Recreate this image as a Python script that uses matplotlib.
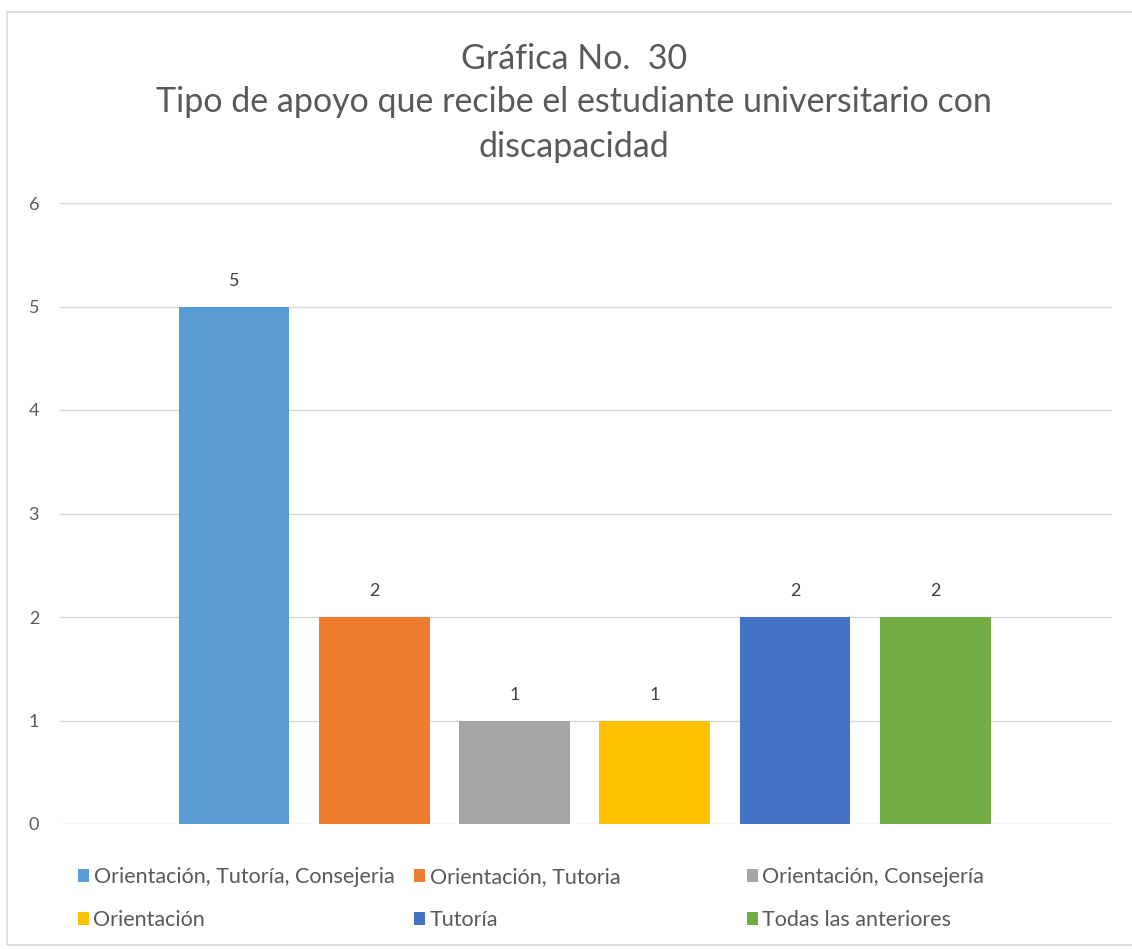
import matplotlib
matplotlib.use("Agg")
import matplotlib.pyplot as plt
from matplotlib.patches import Rectangle

series = ["Orientación, Tutoría, Consejeria", "Orientación, Tutoria",
          "Orientación, Consejería", "Orientación", "Tutoría",
          "Todas las anteriores"]
values = [5, 2, 1, 1, 2, 2]
colors = ["#5B9BD5", "#ED7D31", "#A5A5A5", "#FFC000", "#4472C4", "#70AD47"]
yticks = [0, 1, 2, 3, 4, 5, 6]

plt.rcParams['font.family'] = ['Lato', 'DejaVu Sans']
W, H = 1132, 949
fig = plt.figure(figsize=(W / 100, H / 100), dpi=100)
fig.patches.append(Rectangle((7 / W, 4 / H), 1.2, (H - 16) / H, transform=fig.transFigure,
                             fill=False, edgecolor="#D9D9D9", linewidth=1.2))

ax = fig.add_axes([60 / W, 125 / H, 1052 / W, 621 / H])
handles = []
for i, (s, v, c) in enumerate(zip(series, values, colors)):
    b = ax.bar(i, v, width=0.79, color=c, label=s, zorder=3)
    handles.append(b)
    ax.text(i, v + 0.17, str(v), ha="center", va="bottom", fontsize=13, color="#404040")

ax.set_xlim(-1.24, 6.26)
ax.set_ylim(0, 6)
ax.set_yticks(yticks)
ax.set_yticklabels([str(t) for t in yticks], fontsize=13, color="#595959")
ax.set_xticks([])
ax.grid(axis="y", color="#D9D9D9", linewidth=1, zorder=0)
for sp in ax.spines.values():
    sp.set_visible(False)
ax.tick_params(axis="y", length=0, pad=15)

tkw = dict(ha="center", va="center", fontsize=24.5, color="#595959")
fig.text(574 / W, 1 - 59 / H, "Gráfica No.  30", **tkw)
fig.text(574 / W, 1 - 102 / H, "Tipo de apoyo que recibe el estudiante universitario con", **tkw)
fig.text(574 / W, 1 - 147 / H, "discapacidad", **tkw)

# legend: row-major, 3 columns at fixed positions
col_x = [78, 414, 747]
row_y = [877, 920]
for k, (h, s) in enumerate(zip(handles, series)):
    r, cidx = divmod(k, 3)
    fig.legend(handles=[h], labels=[s], loc="center left",
               bbox_to_anchor=(col_x[cidx] / W, 1 - row_y[r] / H), frameon=False,
               fontsize=15.5, handlelength=0.52, handleheight=0.6, handletextpad=0.2,
               borderpad=0, borderaxespad=0, labelcolor="#595959")

fig.savefig("out.png", dpi=100)
